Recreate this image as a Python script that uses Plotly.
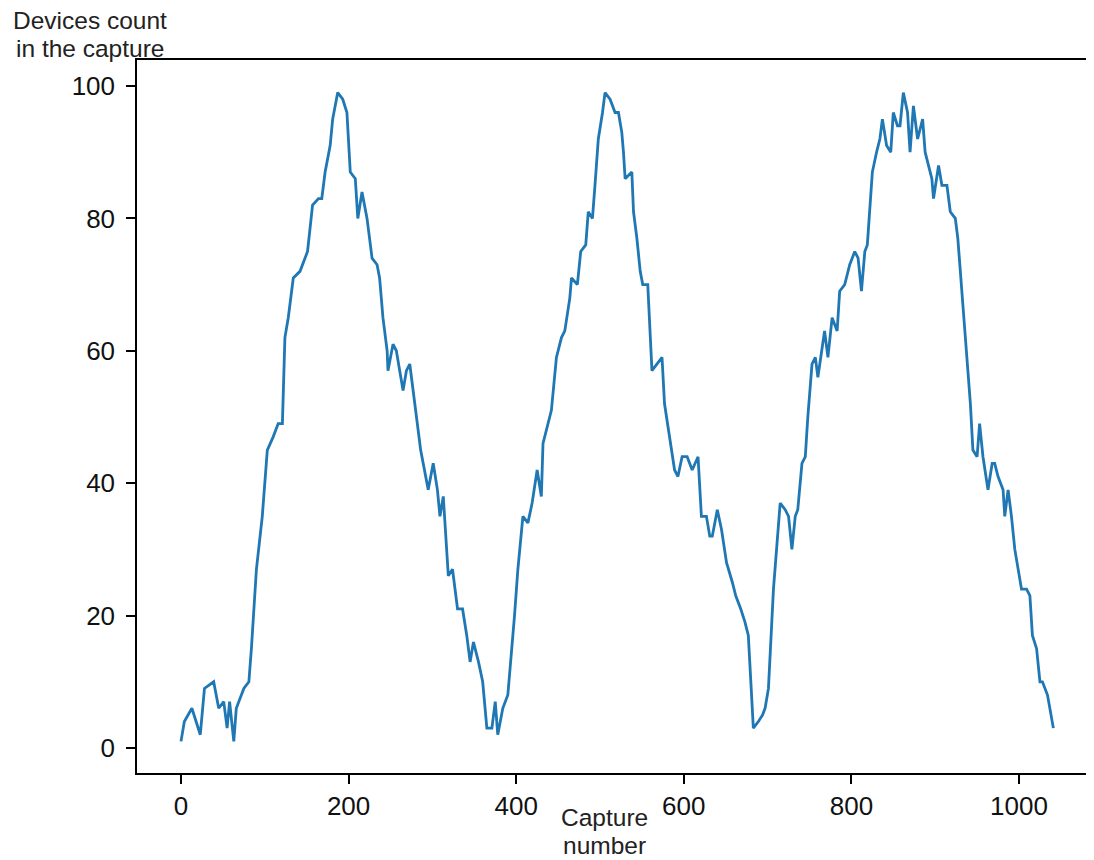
import plotly.graph_objects as go

# Capture number (x) and devices count (y)
capture = [0, 4, 13, 23, 28, 39, 45, 51, 55, 58, 63, 66, 75, 81, 84, 90, 97,
           103, 110, 116, 121, 124, 128, 134, 142, 151, 157, 164, 168, 172, 178, 181, 187,
           193, 198, 202, 208, 211, 216, 222, 228, 234, 237,
           241, 246, 247, 253, 257, 261, 265, 269, 273, 279, 286, 289, 295, 301, 306, 309,
           313, 319, 324, 330, 336, 341, 345, 349, 355, 360, 365, 371, 375, 378,
           384, 390, 395, 398, 402, 408, 414, 419, 425, 430, 432, 438, 442, 448, 454, 458,
           464, 466, 473, 477, 483, 486, 491, 494, 498, 503, 506, 512, 518, 522, 526,
           528, 530, 538, 540, 544, 548, 551, 557, 562, 568, 574, 577, 583, 589, 593, 598,
           604, 610, 617, 621, 627, 631, 634, 640, 645, 651, 658, 662, 668, 673, 677,
           679, 683, 689, 694, 697, 701, 707, 711, 715, 721, 725, 729, 733, 736, 741, 745,
           748, 753, 757, 760, 765, 768, 772, 777, 783, 786, 792, 798, 804, 808, 812, 816, 819,
           822, 825, 830, 834, 837, 842, 847, 850, 855, 858, 862, 867, 870, 874, 879, 885,
           888, 892, 896, 898, 904, 908, 914, 918, 924, 927, 932, 938, 942, 945, 950, 953,
           957, 963, 968, 971, 975, 981, 983, 987, 991, 995, 999, 1003, 1009, 1013, 1016,
           1021, 1025, 1028, 1034, 1037, 1041]
devices = [1, 4, 6, 2, 9, 10, 6, 7, 3, 7, 1, 6, 9, 10, 15, 27, 35,
           45, 47, 49, 49, 62, 65, 71, 72, 75, 82, 83, 83, 87, 91, 95, 99,
           98, 96, 87, 86, 80, 84, 80, 74, 73, 71,
           65, 60, 57, 61, 60, 57, 54, 57, 58, 52, 45, 43, 39, 43, 39, 35,
           38, 26, 27, 21, 21, 17, 13, 16, 13, 10, 3, 3, 7, 2,
           6, 8, 15, 20, 27, 35, 34, 37, 42, 38, 46, 49, 51, 59, 62, 63,
           68, 71, 70, 75, 76, 81, 80, 85, 92, 96, 99, 98, 96, 96, 93,
           90, 86, 87, 81, 77, 72, 70, 70, 57, 58, 59, 52, 47, 42, 41, 44,
           44, 42, 44, 35, 35, 32, 32, 36, 33, 28, 25, 23, 21, 19, 17,
           12, 3, 4, 5, 6, 9, 24, 30, 37, 36, 35, 30, 35, 36, 43, 44,
           50, 58, 59, 56, 60, 63, 59, 65, 63, 69, 70, 73, 75, 74, 69, 75, 76,
           81, 87, 90, 92, 95, 91, 90, 96, 94, 94, 99, 96, 90, 97, 92, 95,
           90, 88, 86, 83, 88, 85, 85, 81, 80, 77, 69, 59, 52, 45, 44, 49,
           44, 39, 43, 43, 41, 39, 35, 39, 35, 30, 27, 24, 24, 23, 17,
           15, 10, 10, 8, 6, 3]

x_ticks = [0, 200, 400, 600, 800, 1000]
y_ticks = [0, 20, 40, 60, 80, 100]

fig = go.Figure()
fig.add_trace(go.Scatter(x=capture, y=devices, mode="lines",
                         line=dict(color="#1f77b4", width=2.8), showlegend=False))

tick_font = dict(family="Liberation Sans, Arial, sans-serif", size=26, color="#111111")
title_font = dict(family="Liberation Sans, Arial, sans-serif", size=24.5, color="#222222")

def label(text, x, y):
    return dict(text=text, xref="paper", yref="paper", x=x, y=y,
                xanchor="center", yanchor="middle", showarrow=False, font=title_font)

fig.update_layout(
    width=1094, height=860,
    margin=dict(l=129, r=8, t=52, b=95),
    paper_bgcolor="white", plot_bgcolor="white",
    xaxis=dict(range=[-52.5, 1089.5], tickvals=x_ticks, ticks="outside", ticklen=9,
               tickwidth=1.5, tickcolor="black", showline=True, linecolor="black",
               linewidth=1.5, mirror=True, showgrid=False, zeroline=False,
               tickfont=tick_font),
    yaxis=dict(range=[-3.78, 103.93], tickvals=y_ticks, ticks="outside", ticklen=9,
               tickwidth=1.5, tickcolor="black", showline=True, linecolor="black",
               linewidth=1.5, showgrid=False, zeroline=False, tickfont=tick_font,
               ticklabelstandoff=6),
    annotations=[
        label("Devices count", -0.0496, 1.0557),
        label("in the capture", -0.0496, 1.0168),
        label("Capture", 0.489, -0.0631),
        label("number", 0.489, -0.101),
    ],
)

fig.write_html("out.html")
